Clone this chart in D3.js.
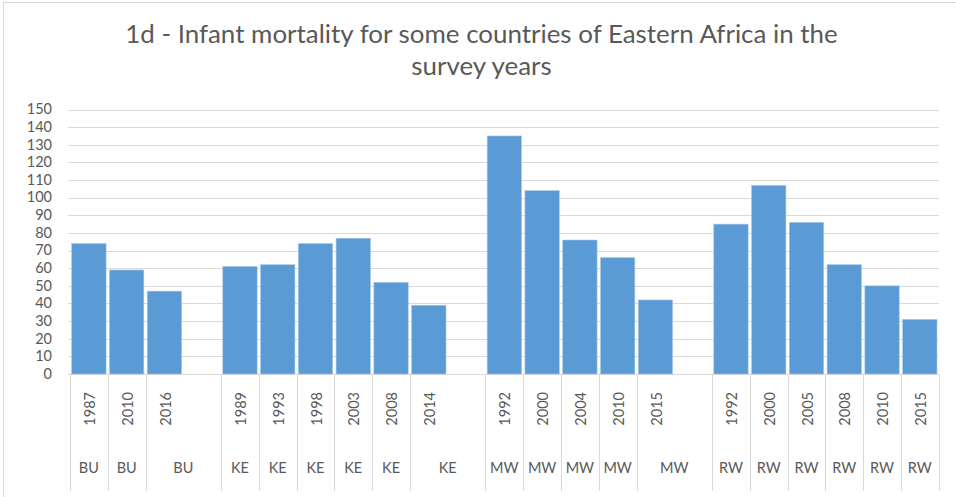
<!DOCTYPE html>
<html>
<head>
<meta charset="utf-8">
<script src="https://cdn.jsdelivr.net/npm/d3@7"></script>
<style>
  body { margin: 0; background: #fff; }
  text { font-family: Lato, "Open Sans", sans-serif; fill: #595959; }
</style>
</head>
<body>
<div id="chart"></div>
<script>
// data
let countries = ["BU", "BU", "BU", "KE", "KE", "KE", "KE", "KE", "KE", "MW", "MW", "MW", "MW", "MW", "RW", "RW", "RW", "RW", "RW", "RW"];
let years = ["1987", "2010", "2016", "1989", "1993", "1998", "2003", "2008", "2014", "1992", "2000", "2004", "2010", "2015", "1992", "2000", "2005", "2008", "2010", "2015"];
let mortality = [74, 59, 47, 61, 62, 74, 77, 52, 39, 135, 104, 76, 66, 42, 85, 107, 86, 62, 50, 31];
let yTicks = d3.range(0, 151, 10);
let titleLines = ["1d - Infant mortality for some countries of Eastern Africa in the", "survey years"];

let width = 956, height = 497;
let barColor = "#5b9bd5";
let lineColor = "#d9d9d9";

// build category slots, with an empty slot between countries (as in the sheet)
let slots = [];
countries.forEach(function (c, i) {
    if (i > 0 && countries[i - 1] !== c) slots.push({ country: null, year: null, value: null });
    slots.push({ country: c, year: years[i], value: mortality[i] });
});

let svg = d3.select("#chart").append("svg")
    .attr("width", width)
    .attr("height", height);

// chart border (only top and left visible)
svg.append("line").attr("x1", 3).attr("x2", width).attr("y1", 2.5).attr("y2", 2.5).attr("stroke", lineColor);
svg.append("line").attr("x1", 3.5).attr("x2", 3.5).attr("y1", 2).attr("y2", height).attr("stroke", lineColor);

let x = d3.scaleBand()
    .domain(d3.range(slots.length))
    .range([70, 938.7]);

let y = d3.scaleLinear()
    .domain([0, 150])
    .range([374, 109.5]);

// title
let title = svg.append("g");
let t1 = title.append("text")
    .attr("x", 481.5).attr("y", 43.3)
    .attr("text-anchor", "middle")
    .attr("font-size", 24)
    .text(titleLines[0]);
let scale = 713 / t1.node().getComputedTextLength();
let titleSize = 24 * scale;
t1.attr("font-size", titleSize);
title.append("text")
    .attr("x", 481.5).attr("y", 75)
    .attr("text-anchor", "middle")
    .attr("font-size", titleSize)
    .text(titleLines[1]);

// gridlines
svg.append("g")
    .selectAll("line")
    .data(yTicks)
    .enter()
    .append("line")
    .attr("x1", 68).attr("x2", 938.7)
    .attr("y1", function (d) { return Math.round(y(d)) + 0.5; })
    .attr("y2", function (d) { return Math.round(y(d)) + 0.5; })
    .attr("stroke", lineColor)
    .attr("stroke-width", 1);

// y labels
svg.append("g")
    .selectAll("text")
    .data(yTicks)
    .enter()
    .append("text")
    .attr("x", 52)
    .attr("y", function (d) { return y(d); })
    .attr("dy", "0.33em")
    .attr("text-anchor", "end")
    .attr("font-size", 14.5)
    .text(function (d) { return d; });

// bars
let bw = x.bandwidth() * 0.91;
svg.append("g")
    .selectAll("rect")
    .data(slots.filter(function (d) { return d.value !== null; }))
    .enter()
    .append("rect")
    .attr("x", function (d) { return x(slots.indexOf(d)) + (x.bandwidth() - bw) / 2; })
    .attr("y", function (d) { return y(d.value); })
    .attr("width", bw)
    .attr("height", function (d) { return y(0) - y(d.value); })
    .attr("fill", barColor)
    .attr("stroke", "#a9c8ea")
    .attr("stroke-width", 0.6);

// category separators: left of every real slot, plus the right end
let sepX = [];
slots.forEach(function (d, i) { if (d.value !== null) sepX.push(x(i)); });
sepX.push(x.range()[1]);
svg.append("g")
    .selectAll("line")
    .data(sepX)
    .enter()
    .append("line")
    .attr("x1", function (d) { return Math.round(d) + 0.5; })
    .attr("x2", function (d) { return Math.round(d) + 0.5; })
    .attr("y1", 374)
    .attr("y2", 491)
    .attr("stroke", lineColor);

// year labels (rotated)
let labelled = slots.map(function (d, i) { return { d: d, i: i }; })
    .filter(function (o) { return o.d.value !== null; });
svg.append("g")
    .selectAll("text")
    .data(labelled)
    .enter()
    .append("text")
    .attr("transform", function (o) {
        return "translate(" + (x(o.i) + x.bandwidth() / 2 + 1) + ",392) rotate(-90)";
    })
    .attr("dy", "0.35em")
    .attr("text-anchor", "end")
    .attr("font-size", 14.5)
    .text(function (o) { return o.d.year; });

// country labels: centred in their box (box takes in a following empty slot)
svg.append("g")
    .selectAll("text")
    .data(labelled)
    .enter()
    .append("text")
    .attr("x", function (o) {
        let next = slots[o.i + 1];
        let span = (next && next.value === null) ? 2 : 1;
        return x(o.i) + x.bandwidth() * span / 2;
    })
    .attr("y", 473)
    .attr("text-anchor", "middle")
    .attr("font-size", 14.5)
    .text(function (o) { return o.d.country; });
</script>
</body>
</html>
